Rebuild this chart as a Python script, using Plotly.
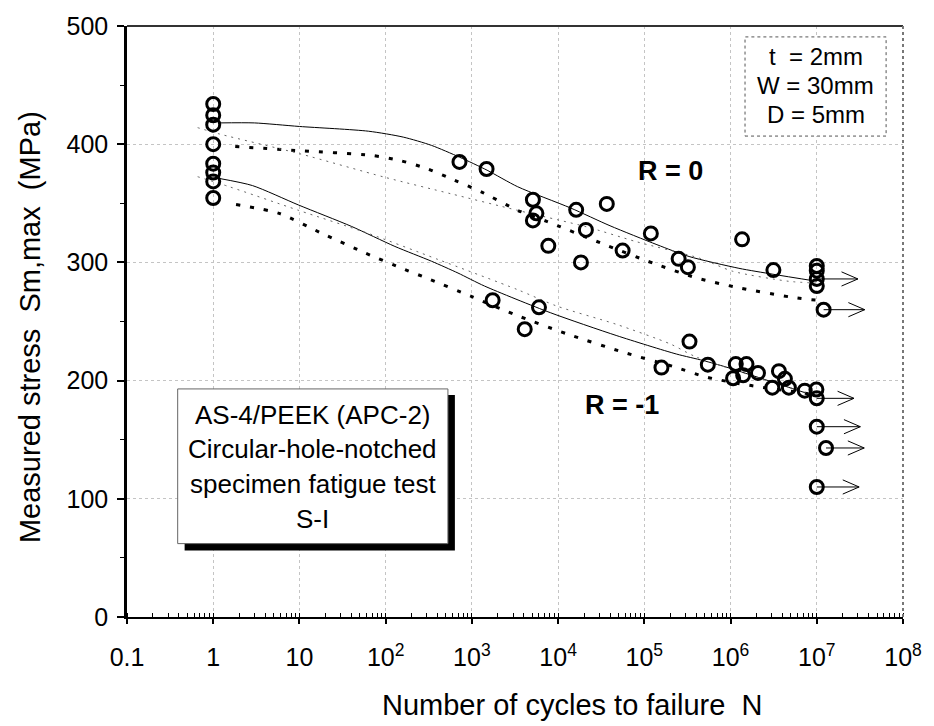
import plotly.graph_objects as go

# ---------------- data ----------------
# fatigue results, R = 0  (cycles to failure, max stress MPa)
r0_cycles = [1, 1, 1, 1, 718, 1480, 5100, 5600, 5100, 7700, 16200, 36700, 21000,
             18400, 56000, 119000, 250000, 320000, 1.36e6, 3.14e6,
             1e7, 1e7, 1e7, 1e7, 1.2e7]
r0_stress = [434, 424.5, 416.5, 400, 385, 379, 353, 341.5, 335.5, 314, 344.5, 349.5, 327.5,
             300, 310, 324.5, 303, 296, 319.5, 293.5,
             297, 293, 286, 280, 260]

# fatigue results, R = -1
rm1_cycles = [1, 1, 1, 1, 1740, 6000, 4100, 158000, 334000, 545000, 1.15e6, 1.53e6,
              1.07e6, 1.4e6, 2.08e6, 3.64e6, 4.27e6, 3.05e6, 4.75e6, 7.25e6, 9.9e6,
              1e7, 1e7, 1.28e7, 1e7]
rm1_stress = [383.5, 376, 368.5, 354.5, 268, 262, 243.5, 211, 233, 213.5, 214, 214,
              202, 204.5, 206.5, 208, 201.5, 194, 194, 191.5, 192.5,
              185, 161, 143, 110]

# run-outs (specimens that did not fail): start cycles, stress, arrow tip cycles
r0_runout_cycles = [1e7, 1.2e7]
r0_runout_stress = [286, 260]
r0_runout_tip = [3.0e7, 3.6e7]
rm1_runout_cycles = [1e7, 1e7, 1.28e7, 1e7]
rm1_runout_stress = [185, 161, 143, 110]
rm1_runout_tip = [2.7e7, 3.2e7, 3.55e7, 3.1e7]

# S-N curves, R = 0
r0_fit_n = [1.18, 3, 10, 63, 160, 340, 720, 1500, 3400, 14000, 40000, 140000, 330000, 1.25e6, 3.1e6, 1e7]
r0_fit_s = [418, 418, 415, 411, 406, 399, 389, 378, 364, 346, 331, 315, 305, 295, 290, 284]
r0_low_n = [1.8, 10, 69, 150, 310, 630, 1300, 3400, 7500, 31000, 130000, 400000, 1.25e6, 5.7e6, 1e7]
r0_low_s = [398, 394.5, 390.5, 386, 379, 369.5, 359.5, 344, 334.5, 316.5, 299, 287, 278.5, 270, 268]
r0_lin_n = [0.66, 1.2, 10, 98, 575, 3400, 21600, 81000, 440000, 1.06e6, 4.75e6, 1e7]
r0_lin_s = [414, 408.5, 392, 372, 358, 344, 330, 317.5, 303.5, 292.5, 284, 282.5]

# S-N curves, R = -1
rm1_fit_n = [1.18, 2.85, 9.8, 40, 128, 340, 690, 1400, 8100, 48000, 235000, 480000, 885000, 3e6, 1e7]
rm1_fit_s = [371, 365, 348.5, 330.5, 313.5, 301, 291, 280, 257.5, 238, 222.5, 217, 211.5, 199, 186.5]
rm1_low_n = [1.84, 5.8, 18.3, 57.7, 167, 316, 1000, 3100, 12700, 57000, 214000, 520000, 1.65e6, 1e7]
rm1_low_s = [349, 341.5, 324.5, 308, 294, 286, 271, 256, 239.5, 224, 212, 203, 196, 188]
rm1_lin_n = [0.66, 1.54, 9.8, 63, 404, 3370, 9700, 47900, 200000, 400000, 1e7]
rm1_lin_s = [372.5, 364, 344, 324.5, 302.5, 277, 263, 247.5, 231, 220, 187]

x_tick_vals = [0.1, 1, 10, 1e2, 1e3, 1e4, 1e5, 1e6, 1e7, 1e8]
x_tick_text = ["0.1", "1", "10", "10<sup>2</sup>", "10<sup>3</sup>", "10<sup>4</sup>",
               "10<sup>5</sup>", "10<sup>6</sup>", "10<sup>7</sup>", "10<sup>8</sup>"]

# ---------------- figure ----------------
FONT = "Arial, 'Liberation Sans', sans-serif"
PLOT_L, PLOT_T, PLOT_W, PLOT_H = 127, 21, 781, 596
W, H = 934, 726


def px(x):
    return (x - PLOT_L) / PLOT_W


def py(y):
    return (PLOT_T + PLOT_H - y) / PLOT_H


fig = go.Figure()


def curve(n, s, width, dash, color="black"):
    fig.add_trace(go.Scatter(x=n, y=s, mode="lines",
                             line=dict(color=color, width=width, dash=dash,
                                       shape="spline", smoothing=0.7),
                             hoverinfo="skip"))


for n, s in [(r0_fit_n, r0_fit_s), (rm1_fit_n, rm1_fit_s)]:
    curve(n, s, 1, "solid")
for n, s in [(r0_low_n, r0_low_s), (rm1_low_n, rm1_low_s)]:
    curve(n, s, 3, "4px,10px")
for n, s in [(r0_lin_n, r0_lin_s), (rm1_lin_n, rm1_lin_s)]:
    curve(n, s, 1, "2px,5px", "#666666")


def runout_arrows(starts, stresses, tips, head_len=10 ** 0.19, head_half=6.0):
    xs, ys = [], []
    for n0, s, n1 in zip(starts, stresses, tips):
        xs += [n0, n1, None, n1 / head_len, n1, n1 / head_len, None]
        ys += [s, s, None, s + head_half, s, s - head_half, None]
    fig.add_trace(go.Scatter(x=xs, y=ys, mode="lines",
                             line=dict(color="black", width=1),
                             hoverinfo="skip"))


runout_arrows(r0_runout_cycles, r0_runout_stress, r0_runout_tip)
runout_arrows(rm1_runout_cycles, rm1_runout_stress, rm1_runout_tip)

for n, s in [(r0_cycles, r0_stress), (rm1_cycles, rm1_stress)]:
    fig.add_trace(go.Scatter(x=n, y=s, mode="markers",
                             marker=dict(symbol="circle-open", size=13, color="black",
                                         line=dict(width=3, color="black"))))

fig.update_layout(
    width=W, height=H,
    margin=dict(l=PLOT_L, r=W - PLOT_L - PLOT_W, t=PLOT_T, b=H - PLOT_T - PLOT_H),
    plot_bgcolor="white", paper_bgcolor="white",
    showlegend=False,
    font=dict(family=FONT, color="black"),
)

fig.update_xaxes(
    type="log", range=[-1, 8],
    tickmode="array", tickvals=x_tick_vals, ticktext=x_tick_text,
    tickfont=dict(size=25, family=FONT),
    ticks="outside", ticklen=5, tickwidth=1.5, tickcolor="black",
    ticklabelstandoff=12,
    showline=True, linecolor="black", linewidth=2,
    showgrid=True, gridcolor="#c4c4c4", griddash="dot", gridwidth=1,
    zeroline=False,
    minor=dict(ticks="inside", ticklen=4, tickwidth=1, tickcolor="black",
               dtick="D1", showgrid=False),
)
fig.update_yaxes(
    range=[0, 500], dtick=100,
    tickfont=dict(size=25, family=FONT),
    ticks="outside", ticklen=7, tickwidth=1.5, tickcolor="black",
    ticklabelstandoff=4,
    showline=True, linecolor="black", linewidth=2.5,
    showgrid=True, gridcolor="#c4c4c4", griddash="dot", gridwidth=1,
    zeroline=False,
    minor=dict(ticks="outside", ticklen=4, tickwidth=1, tickcolor="black",
               dtick=50, showgrid=False),
)

shapes = [
    # plot frame top / right
    dict(type="line", xref="paper", yref="paper", x0=0, x1=1, y0=1, y1=1,
         line=dict(color="#333333", width=2)),
    dict(type="line", xref="paper", yref="paper", x0=1, x1=1, y0=0, y1=1,
         line=dict(color="#777777", width=2, dash="dot")),
    # specimen box with drop shadow
    dict(type="rect", xref="paper", yref="paper",
         x0=px(185), x1=px(457), y0=py(550), y1=py(393),
         fillcolor="black", line=dict(width=0)),
    dict(type="rect", xref="paper", yref="paper",
         x0=px(178), x1=px(450), y0=py(543), y1=py(387),
         fillcolor="white", line=dict(color="#666666", width=1)),
    # geometry box
    dict(type="rect", xref="paper", yref="paper",
         x0=px(749), x1=px(891), y0=py(132), y1=py(32),
         fillcolor="white", line=dict(color="#555555", width=1, dash="dot")),
]
fig.update_layout(shapes=shapes)

NB = "\u00a0"
annotations = []


def label(text, x, y, size, bold=False, angle=0):
    annotations.append(dict(
        text=f"<b>{text}</b>" if bold else text,
        xref="paper", yref="paper", x=px(x), y=py(y),
        xanchor="center", yanchor="middle", showarrow=False, textangle=angle,
        font=dict(size=size, family=FONT, color="black")))


label(f"Number of cycles to failure{NB}{NB}N", 575, 706, 29)
label(f"Measured stress{NB}{NB}Sm,max{NB}{NB}(MPa)", 30, 325, 29, angle=-90)
label("R = 0", 674, 167, 27, bold=True)
label("R = -1", 625, 403, 27, bold=True)

for txt, yc in [(f"t{NB} = 2mm", 52), ("W = 30mm", 81), ("D = 5mm", 110)]:
    label(txt, 820, yc, 24)

for txt, yc in [("AS-4/PEEK (APC-2)", 413), ("Circular-hole-notched", 448),
                ("specimen fatigue test", 483), ("S-I", 518)]:
    label(txt, 314, yc, 26)

fig.update_layout(annotations=annotations)

fig.write_html("out.html")
